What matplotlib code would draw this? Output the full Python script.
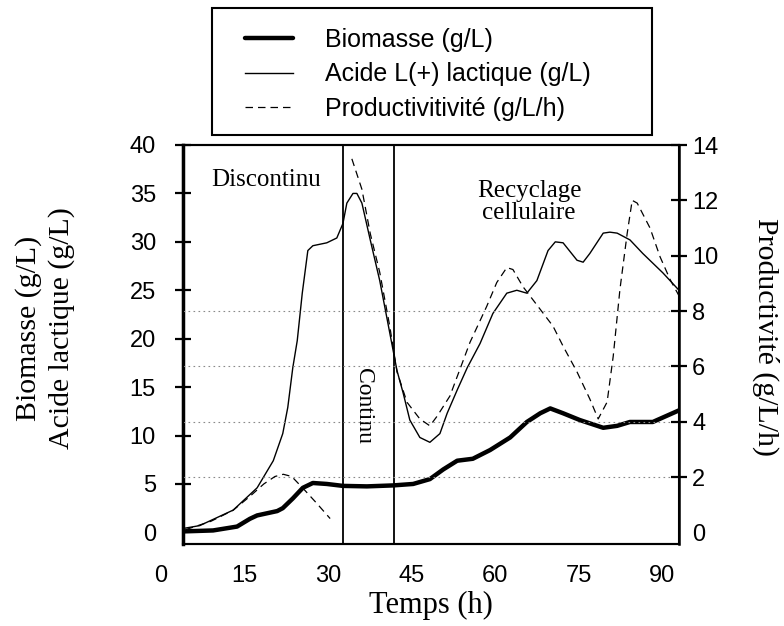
import matplotlib
matplotlib.use("Agg")
import matplotlib.pyplot as plt
from matplotlib.patches import Rectangle

# ── DATA ──────────────────────────────────────────────────────────────────────

# Biomasse (g/L) vs temps (h)
biomasse_t = [4.0, 9.4, 13.7, 16.0, 17.3, 20.9, 21.9, 23.7, 25.5, 27.3, 29.8,
              32.7, 37.0, 41.7, 45.3, 48.3, 50.7, 53.2, 56.0, 59.1, 62.7,
              65.7, 68.1, 69.9, 72.2, 75.2, 79.4, 81.9, 84.2, 88.3, 93.0]
biomasse = [0.1, 0.2, 0.6, 1.4, 1.75, 2.2, 2.5, 3.5, 4.6, 5.1, 5.0,
            4.8, 4.75, 4.85, 5.0, 5.5, 6.5, 7.4, 7.6, 8.5, 9.8,
            11.4, 12.3, 12.8, 12.3, 11.6, 10.8, 11.0, 11.4, 11.4, 12.6]

# Acide L(+) lactique (g/L)
acide_t = [4.0, 7.0, 13.0, 17.3, 20.2, 21.9, 22.8, 23.7, 24.5, 25.4, 26.4,
           27.3, 29.8, 31.6, 32.7, 33.4, 34.5, 35.2, 36.1, 37.6, 39.3,
           41.1, 42.4, 43.5, 44.7, 46.5, 48.3, 50.1, 51.4, 53.2, 55.0,
           57.3, 59.6, 62.1, 63.9, 65.7, 67.5, 69.5, 70.8, 72.2, 74.7,
           75.8, 77.0, 79.4, 80.6, 81.9, 84.2, 86.5, 90.1, 93.0]
acide = [0.4, 0.7, 2.3, 4.6, 7.4, 10.2, 12.9, 17.0, 19.8, 24.7, 29.1,
         29.6, 29.9, 30.4, 31.9, 34.0, 35.0, 35.0, 34.0, 30.2, 26.0,
         20.6, 16.7, 14.4, 11.6, 9.8, 9.3, 10.2, 12.3, 14.7, 17.0,
         19.5, 22.6, 24.7, 25.0, 24.7, 26.0, 29.1, 30.0, 29.9, 28.1,
         27.9, 28.8, 30.9, 31.0, 30.9, 30.2, 28.8, 26.8, 25.0]

# Productivité (g/L/h) – phase discontinue
prod_batch_t = [4.5, 9.0, 13.0, 16.0, 18.5, 20.5, 22.0, 23.5, 25.5, 28.0, 30.4]
prod_batch = [0.1, 0.4, 0.8, 1.3, 1.75, 2.02, 2.1, 2.02, 1.6, 1.05, 0.5]

# Productivité (g/L/h) – continu puis recyclage cellulaire
prod_cont_t = [34.3, 36.1, 37.6, 39.3, 41.1, 42.4, 44.2, 46.5, 48.3, 49.6,
               51.9, 55.5, 58.5, 60.3, 62.1, 63.2, 65.0, 68.1, 70.4, 72.2,
               74.7, 77.0, 78.5, 80.1, 81.2, 82.4, 83.7, 84.6, 85.5, 87.8,
               89.6, 91.4, 93.0]
prod_cont = [13.5, 12.4, 10.8, 9.4, 7.45, 5.8, 4.7, 4.1, 3.85, 4.2,
             4.93, 6.87, 8.17, 9.03, 9.57, 9.5, 8.88, 8.06, 7.45, 6.73,
             5.8, 4.82, 4.1, 4.71, 6.37, 8.78, 10.8, 12.0, 11.9, 11.0,
             9.96, 9.14, 8.55]

# Limites des phases (h)
phase_limits = [32.7, 41.9]

x_ticks = [0, 15, 30, 45, 60, 75, 90]
left_ticks = [0, 5, 10, 15, 20, 25, 30, 35, 40]
right_ticks = [0, 2, 4, 6, 8, 10, 12, 14]
grid_levels = [2, 4, 6, 8]

SERIF = ["Liberation Serif", "DejaVu Serif"]
SANS = ["Liberation Sans", "DejaVu Sans"]

# ── FIGURE ────────────────────────────────────────────────────────────────────

plt.rcParams["font.family"] = SANS

fig = plt.figure(figsize=(7.84, 6.26), dpi=100)
ax = fig.add_axes([183 / 784, 1 - 544 / 626, 496 / 784, 399 / 626])
ax2 = ax.twinx()

ax.set_xlim(4, 93)
ax.set_ylim(-1.2, 40)
ax2.set_ylim(-1.2 * 14 / 40, 14)

# dotted grid (right axis levels)
for g in grid_levels:
    ax2.axhline(g, color="#8a8a8a", linewidth=0.8,
                linestyle=(0, (1.5, 3)), zorder=0)

# phase limits
for xl in phase_limits:
    ax.axvline(xl, color="black", linewidth=1.3, zorder=3)

l_bio, = ax.plot(biomasse_t, biomasse, color="black", linewidth=3.2,
                 solid_capstyle="round", zorder=4)
l_acid, = ax.plot(acide_t, acide, color="black", linewidth=1.0, zorder=4)
l_prod, = ax2.plot(prod_batch_t, prod_batch, color="black", linewidth=0.9,
                   linestyle=(0, (6, 4)), zorder=4)
ax2.plot(prod_cont_t, prod_cont, color="black", linewidth=0.9,
         linestyle=(0, (6, 4)), zorder=4)

# ── AXES STYLE ────────────────────────────────────────────────────────────────

for a in (ax, ax2):
    for s in a.spines.values():
        s.set_linewidth(1.5)
ax.spines["left"].set_linewidth(2.5)
ax2.spines["right"].set_linewidth(1.8)

ax.set_xticks(x_ticks[1:])
ax.tick_params(axis="x", length=0, pad=15, labelsize=17)
ax.annotate("0", xy=(x_ticks[0], 0), xycoords=("data", "axes fraction"),
            xytext=(0, -15), textcoords="offset points", ha="center",
            va="top", fontsize=17, annotation_clip=False)

ax.set_yticks(left_ticks)
ax.tick_params(axis="y", direction="inout", length=11, width=1.6,
               pad=14, labelsize=17)
ax.yaxis.get_major_ticks()[0].tick1line.set_visible(False)

ax2.set_yticks(right_ticks)
ax2.tick_params(axis="y", direction="inout", length=11, width=1.6,
                pad=4, labelsize=17)
ax2.yaxis.get_major_ticks()[0].tick2line.set_visible(False)

ax.set_xlabel("Temps (h)", family=SERIF, fontsize=22, va="center")
ax.xaxis.set_label_coords(0.5, -61 / 399)

fig.text(45 / 784, 1 - 328 / 626, "Biomasse (g/L)\nAcide lactique (g/L)",
         rotation=90, ha="center", va="center", multialignment="center",
         family=SERIF, fontsize=21.5, linespacing=1.28)
fig.text(766 / 784, 1 - 337 / 626, "Productivité (g/L/h)", rotation=270,
         ha="center", va="center", family=SERIF, fontsize=21.5)

# ── PHASE ANNOTATIONS ─────────────────────────────────────────────────────────

ax.text(18.9, 36.4, "Discontinu", family=SERIF, fontsize=18,
        ha="center", va="center")
ax.text(66.1, 34.1, "Recyclage\ncellulaire", family=SERIF, fontsize=18,
        ha="center", va="center", linespacing=1.0)
ax.text(36.4, 13.0, "Continu", family=SERIF, fontsize=17, rotation=270,
        ha="center", va="center")

# ── LEGEND ────────────────────────────────────────────────────────────────────

fig.patches.append(Rectangle((212 / 784, 1 - 135 / 626), 440 / 784,
                             127 / 626, transform=fig.transFigure,
                             fill=False, edgecolor="black", linewidth=1.5))
fig.legend([l_bio, l_acid, l_prod],
           ["Biomasse (g/L)", "Acide L(+) lactique (g/L)",
            "Productivitivité (g/L/h)"],
           loc="upper left", bbox_to_anchor=(245 / 784, 1 - 28 / 626),
           fontsize=18, handlelength=1.9, handletextpad=1.3,
           borderpad=0, labelspacing=0.42, frameon=False, borderaxespad=0)

fig.savefig("out.png", dpi=100)
